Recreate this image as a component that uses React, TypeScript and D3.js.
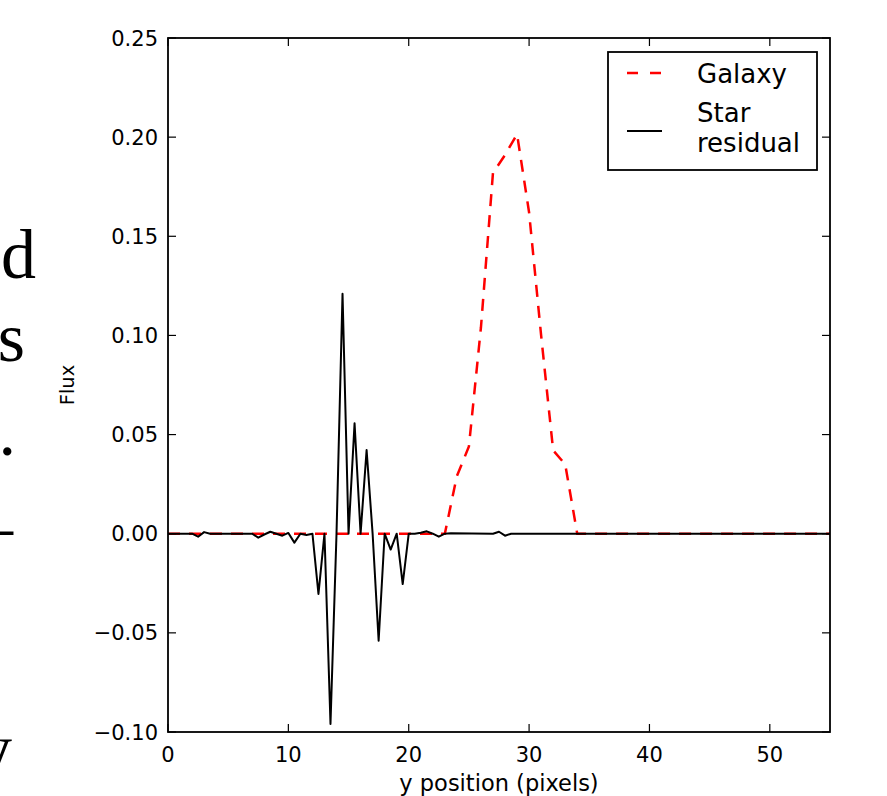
import React from "react";
import * as d3 from "d3";

// galaxy profile, sampled at integer y positions
const galaxyX = [0, 5, 10, 15, 20, 23, 24, 25, 26, 27, 28, 29, 30, 31, 32, 33, 34, 40, 45, 50, 55];
const galaxyFlux = [0, 0, 0, 0, 0, 0, 0.029, 0.044, 0.104, 0.182, 0.191, 0.2015, 0.162, 0.1, 0.042, 0.035, 0, 0, 0, 0, 0];

// star residual, sampled at half-pixel steps
const starX = [
  0, 2, 2.5, 3, 3.5, 7, 7.5, 8, 8.5, 9, 9.5, 10, 10.5, 11, 11.5, 12, 12.5, 13, 13.5, 14, 14.5, 15, 15.5, 16,
  16.5, 17, 17.5, 18, 18.5, 19, 19.5, 20, 20.5, 21, 21.5, 22, 22.5, 23, 23.5, 27, 27.5, 28, 28.5, 55,
];
const starFlux = [
  0, 0, -0.0015, 0.0008, 0, 0, -0.002, -0.0004, 0.001, 0, -0.001, 0.0004, -0.0045, 0, -0.0006, 0, -0.0304, 0,
  -0.096, 0, 0.121, 0, 0.0557, 0, 0.0422, 0, -0.054, 0, -0.008, 0, -0.0254, 0, 0, 0.0005, 0.0012, 0, -0.0015, 0,
  0.0002, 0, 0.001, -0.001, 0, 0,
];

const xTicks = [0, 10, 20, 30, 40, 50];
const yTicks = [-0.1, -0.05, 0, 0.05, 0.1, 0.15, 0.2, 0.25];
const legendLabels = ["Galaxy", "Star", "residual"];

const W = 887;
const H = 796;
const margin = { left: 168, right: 57, top: 38, bottom: 64 };
const font = "'DejaVu Sans', sans-serif";

export default function App() {
  const x = d3.scaleLinear().domain([0, 55]).range([margin.left, W - margin.right]);
  const y = d3.scaleLinear().domain([-0.1, 0.25]).range([H - margin.bottom, margin.top]);

  const line = d3
    .line<[number, number]>()
    .x((d) => x(d[0]))
    .y((d) => y(d[1]));

  const galaxy = galaxyX.map((v, i) => [v, galaxyFlux[i]] as [number, number]);
  const star = starX.map((v, i) => [v, starFlux[i]] as [number, number]);

  const x0 = x.range()[0];
  const x1 = x.range()[1];
  const y0 = y.range()[0];
  const y1 = y.range()[1];
  const tick = 8;

  return (
    <svg
      width={W}
      height={H}
      style={{ position: "absolute", left: 0, top: 0, background: "#fff" }}
    >
      {/* fragments of the surrounding document text, cut at the left edge */}
      <g fontFamily="'Liberation Serif', serif" fontSize={70} fill="#000" textAnchor="end">
        <text x={36} y={278}>d</text>
        <text x={25} y={361}>s</text>
        <text x={16} y={455}>.</text>
        <text x={13} y={550}>–</text>
        <text x={12} y={772}>y</text>
      </g>

      <g clipPath="url(#plot)">
        <defs>
          <clipPath id="plot">
            <rect x={x0} y={y1} width={x1 - x0} height={y0 - y1} />
          </clipPath>
        </defs>
        <path d={line(galaxy) ?? ""} fill="none" stroke="#ff0000" strokeWidth={2.5} strokeDasharray="12 9" />
        <path d={line(star) ?? ""} fill="none" stroke="#000" strokeWidth={2} strokeLinejoin="round" />
      </g>

      {/* ticks, inward on all four sides */}
      <g stroke="#000" strokeWidth={1.2}>
        {xTicks.map((t) => (
          <g key={"xt" + t}>
            <line x1={x(t)} x2={x(t)} y1={y0} y2={y0 - tick} />
            <line x1={x(t)} x2={x(t)} y1={y1} y2={y1 + tick} />
          </g>
        ))}
        {yTicks.map((t) => (
          <g key={"yt" + t}>
            <line x1={x0} x2={x0 + tick} y1={y(t)} y2={y(t)} />
            <line x1={x1} x2={x1 - tick} y1={y(t)} y2={y(t)} />
          </g>
        ))}
      </g>
      <rect x={x0} y={y1} width={x1 - x0} height={y0 - y1} fill="none" stroke="#000" strokeWidth={1.8} />

      <g fontFamily={font} fontSize={21} fill="#000">
        {xTicks.map((t) => (
          <text key={"xl" + t} x={x(t)} y={y0 + 30} textAnchor="middle">
            {t}
          </text>
        ))}
        {yTicks.map((t) => (
          <text key={"yl" + t} x={x0 - 10} y={y(t)} dy="0.36em" textAnchor="end">
            {d3.format(".2f")(t).replace("-", "\u2212")}
          </text>
        ))}
        <text x={(x0 + x1) / 2} y={791} textAnchor="middle" fontSize={22.5}>
          y position (pixels)
        </text>
        <text
          transform={`translate(${74},${(y0 + y1) / 2}) rotate(-90)`}
          textAnchor="middle"
          fontSize={19.5}
        >
          Flux
        </text>
      </g>

      {/* legend */}
      <g fontFamily={font} fontSize={26} fill="#000">
        <rect x={608} y={52} width={209} height={118} fill="#fff" stroke="#000" strokeWidth={1.8} />
        <line x1={627} x2={662} y1={73} y2={73} stroke="#ff0000" strokeWidth={2.5} strokeDasharray="11 12" />
        <line x1={627} x2={662} y1={131} y2={131} stroke="#000" strokeWidth={2} />
        <text x={697} y={83}>{legendLabels[0]}</text>
        <text x={697} y={122}>{legendLabels[1]}</text>
        <text x={697} y={152}>{legendLabels[2]}</text>
      </g>
    </svg>
  );
}
